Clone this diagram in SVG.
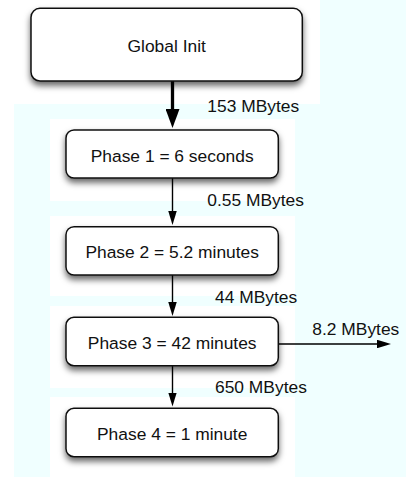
<svg xmlns="http://www.w3.org/2000/svg" width="406" height="477" viewBox="0 0 406 477">
  <style>
    .node rect { fill: #ffffff; stroke: #111111; stroke-width: 1.5; filter: url(#sh); }
    .node text { font-family: "Liberation Sans", Arial, sans-serif; font-size: 17.4px; fill: #111111; text-anchor: middle; }
    .lbl { font-family: "Liberation Sans", Arial, sans-serif; font-size: 17.4px; fill: #111111; }
    .thin { stroke: #000000; stroke-width: 1.4; fill: none; marker-end: url(#ah); }
    .thick { stroke: #000000; stroke-width: 3.3; fill: none; marker-end: url(#ahb); }
  </style>
  <defs>
    <filter id="sh" x="-20%" y="-30%" width="140%" height="180%">
      <feDropShadow dx="0" dy="4" stdDeviation="3" flood-color="#000000" flood-opacity="0.6"/>
    </filter>
    <marker id="ah" markerUnits="userSpaceOnUse" markerWidth="14" markerHeight="8.5" refX="4" refY="4.25" orient="auto" viewBox="0 0 14 8.5">
      <path d="M0,0 L14,4.25 L0,8.5 Z" fill="#000000"/>
    </marker>
    <marker id="ahb" markerUnits="userSpaceOnUse" markerWidth="19" markerHeight="14" refX="5" refY="7" orient="auto" viewBox="0 0 19 14">
      <path d="M0,0 L19,7 L0,14 Z" fill="#000000"/>
    </marker>
  </defs>

  <g id="background">
    <rect x="0" y="0" width="406" height="477" fill="#ffffff"/>
    <rect x="320" y="0" width="86" height="104" fill="#f0ffff"/>
    <rect x="14" y="104" width="392" height="373" fill="#f0ffff"/>
    <rect x="50" y="119" width="245" height="82" fill="#ffffff"/>
    <rect x="50" y="216" width="245" height="80" fill="#ffffff"/>
    <rect x="50" y="306" width="245" height="82" fill="#ffffff"/>
    <rect x="50" y="397" width="245" height="80" fill="#ffffff"/>
  </g>

  <g id="connectors">
    <line class="thick" x1="172.5" y1="81" x2="172.5" y2="114"/>
    <line class="thin" x1="172.5" y1="178" x2="172.5" y2="215"/>
    <line class="thin" x1="172.5" y1="275" x2="172.5" y2="306"/>
    <line class="thin" x1="172.5" y1="366" x2="172.5" y2="396.5"/>
    <line class="thin" x1="278.3" y1="344" x2="381" y2="344"/>
    <text class="lbl" x="207.3" y="111.5">153 MBytes</text>
    <text class="lbl" x="207.3" y="206">0.55 MBytes</text>
    <text class="lbl" x="215" y="303.3">44 MBytes</text>
    <text class="lbl" x="312.3" y="334.5">8.2 MBytes</text>
    <text class="lbl" x="215" y="392.7">650 MBytes</text>
  </g>

  <g id="global-init" class="node">
    <rect x="31" y="8.3" width="271.3" height="72.7" rx="9" ry="9"/>
    <text x="166.7" y="51.7">Global Init</text>
  </g>
  <g id="phase1" class="node">
    <rect x="66" y="130" width="212.3" height="48" rx="8" ry="8"/>
    <text x="172.2" y="161.5">Phase 1 = 6 seconds</text>
  </g>
  <g id="phase2" class="node">
    <rect x="66" y="226.7" width="212.3" height="48.3" rx="8" ry="8"/>
    <text x="172.2" y="258.3">Phase 2 = 5.2 minutes</text>
  </g>
  <g id="phase3" class="node">
    <rect x="66" y="317.3" width="212.3" height="48.4" rx="8" ry="8"/>
    <text x="172.2" y="349.3">Phase 3 = 42 minutes</text>
  </g>
  <g id="phase4" class="node">
    <rect x="66" y="408.3" width="212.3" height="48.4" rx="8" ry="8"/>
    <text x="172.2" y="440">Phase 4 = 1 minute</text>
  </g>
</svg>
